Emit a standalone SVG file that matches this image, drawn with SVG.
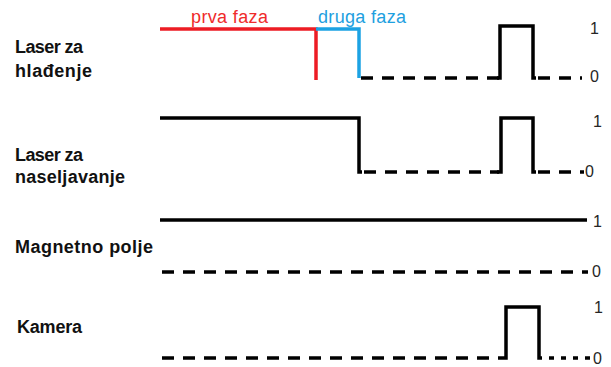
<svg xmlns="http://www.w3.org/2000/svg" width="611" height="367" viewBox="0 0 611 367">
<style>
.lbl{font-family:"Liberation Sans",Arial,sans-serif;font-size:18px;font-weight:bold;fill:#111}
.num{font-family:"Liberation Sans",Arial,sans-serif;font-size:16px;fill:#262626}
.ph{font-family:"Liberation Sans",Arial,sans-serif;font-size:18px}
.s{fill:none;stroke:#000;stroke-width:3.5;stroke-linejoin:miter;stroke-linecap:butt}
.d{fill:none;stroke:#000;stroke-width:3.5;stroke-dasharray:12 9}
.dot{fill:none;stroke:#000;stroke-width:3.5;stroke-dasharray:5 7}
</style>
<rect width="611" height="367" fill="#fff"/>
<g id="phases">
<text class="ph" x="191" y="23" fill="#ef2b2b" textLength="77">prva faza</text>
<text class="ph" x="318" y="23" fill="#1ea0e0" textLength="88">druga faza</text>
</g>
<g id="laser-hladjenje">
<text class="lbl" x="15" y="53" textLength="68">Laser za</text>
<text class="lbl" x="15" y="77" textLength="77">hlađenje</text>
<path d="M160 29H316V80" fill="none" stroke="#ed1c24" stroke-width="3.5"/>
<path d="M316 29H359V78" fill="none" stroke="#1ca2e3" stroke-width="3.5"/>
<path class="d" d="M361 78H499"/>
<path class="s" d="M497 78H500V26H533V78H536"/>
<path class="d" d="M538 78H582"/>
<text class="num" x="590" y="34">1</text>
<text class="num" x="590" y="82">0</text>
</g>
<g id="laser-naseljavanje">
<text class="lbl" x="15" y="161" textLength="68">Laser za</text>
<text class="lbl" x="15" y="183" textLength="110">naseljavanje</text>
<path class="s" d="M160 118H359V172H362"/>
<path class="d" d="M364 172H499"/>
<path class="s" d="M497 172H501V118H533V172H536"/>
<path class="d" d="M538 172H584"/>
<text class="num" x="593" y="127">1</text>
<text class="num" x="585" y="177">0</text>
</g>
<g id="magnetno-polje">
<text class="lbl" x="15" y="253" textLength="138">Magnetno polje</text>
<path class="s" d="M160 220H587"/>
<path class="d" d="M162 272H588"/>
<text class="num" x="593" y="227">1</text>
<text class="num" x="592" y="277">0</text>
</g>
<g id="kamera">
<text class="lbl" x="17" y="333" textLength="65">Kamera</text>
<path class="d" d="M162 358H493"/>
<path class="s" d="M498 358H506V307H539V358H542"/>
<path class="dot" d="M549 358H592"/>
<text class="num" x="594" y="313">1</text>
<text class="num" x="593" y="364">0</text>
</g>
</svg>
